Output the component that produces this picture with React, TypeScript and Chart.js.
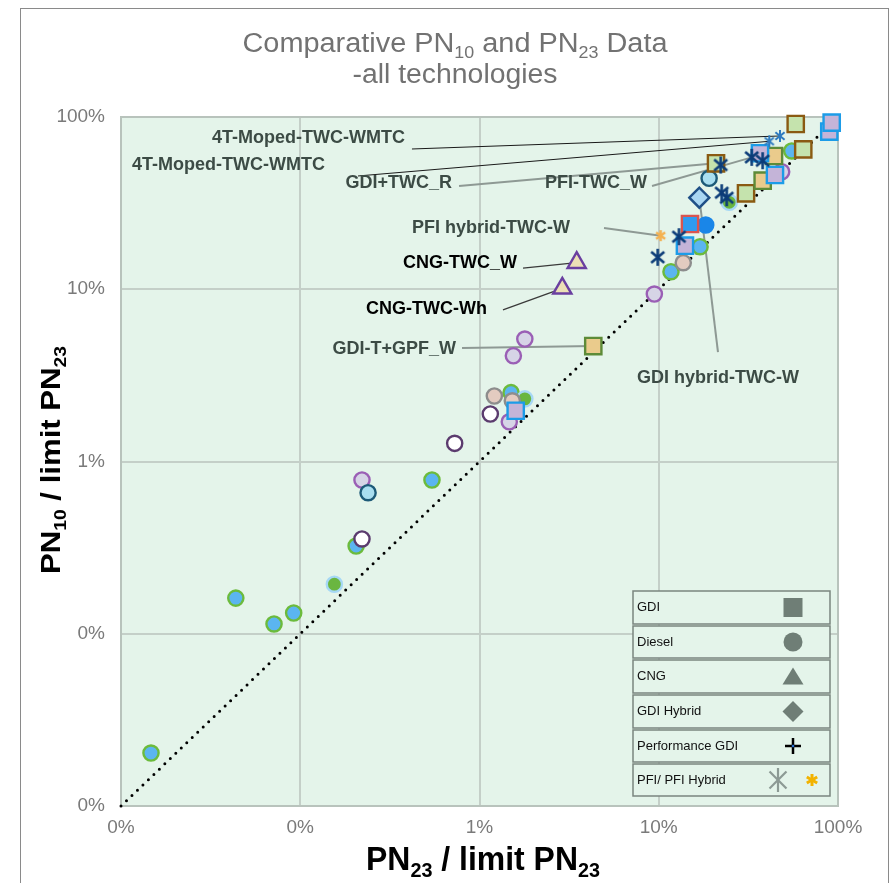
import React, { useEffect, useRef } from 'react';
import { Chart, registerables } from 'chart.js';

Chart.register(...registerables);

// ---------------- DATA ----------------
const TICK_VALUES = [0.0001, 0.001, 0.01, 0.1, 1];
const DIAGONAL_X = [0.0001, 1];
const DIAGONAL_Y = [0.0001, 1];

// Diesel – blue fill / green border
const dieselBlueX = [0.000147, 0.000437, 0.000714, 0.000919, 0.00205, 0.00543, 0.015, 0.552, 0.117, 0.17];
const dieselBlueY = [0.000203, 0.00161, 0.00114, 0.00132, 0.00323, 0.00781, 0.0251, 0.635, 0.1264, 0.1766];
// Diesel – green fill / light blue border
const dieselGreenX = [0.00155, 0.0179, 0.2474];
const dieselGreenY = [0.00194, 0.0231, 0.3198];
// Diesel – lilac fill / purple border
const dieselLilacX = [0.00221, 0.01466, 0.01545, 0.0179, 0.485, 0.0945];
const dieselLilacY = [0.00781, 0.017, 0.0411, 0.0514, 0.481, 0.0938];
// Diesel – white fill / dark purple border
const dieselWhiteX = [0.00221, 0.00727, 0.01149];
const dieselWhiteY = [0.00355, 0.01275, 0.01887];
// Diesel – light blue fill / teal border
const dieselTealX = [0.00239, 0.191];
const dieselTealY = [0.00659, 0.4406];
// Diesel – tan fill / grey border
const dieselTanX = [0.0121, 0.01524, 0.137];
const dieselTanY = [0.024, 0.0225, 0.1426];
// Diesel – solid blue
const dieselSolidX = [0.1828];
const dieselSolidY = [0.236];

// GDI squares
const gdiGreenX = [0.581, 0.64, 0.2087, 0.3068];
const gdiGreenY = [0.911, 0.649, 0.5385, 0.3606];
const gdiTanX = [0.4395, 0.38, 0.04313];
const gdiTanY = [0.594, 0.4268, 0.0468];
const gdiLilacX = [0.894, 0.922, 0.367, 0.445, 0.14, 0.01592];
const gdiLilacY = [0.822, 0.927, 0.616, 0.4606, 0.179, 0.01971];
const gdiBlueX = [0.1494];
const gdiBlueY = [0.2392];

// CNG
const cngX = [0.03485, 0.02897];
const cngY = [0.1426, 0.1013];

// GDI hybrid
const gdiHybridX = [0.1684];
const gdiHybridY = [0.34];

// PFI
const pfiX = [0.33, 0.38, 0.2216, 0.2245, 0.2394, 0.1297, 0.0987];
const pfiY = [0.583, 0.5576, 0.526, 0.3635, 0.34, 0.2019, 0.1533];
const mopedX = [0.4747, 0.4137];
const mopedY = [0.776, 0.7228];
const pfiHybridX = [0.1025];
const pfiHybridY = [0.2047];

// Annotation labels (leader start in data space, target point)
const ANNOTATIONS = [
  { text: '4T-Moped-TWC-WMTC', from: [0.0042, 0.652], to: [mopedX[0], mopedY[0]], dx: -7, dy: -11, align: 'right', kind: 'black' },
  { text: '4T-Moped-TWC-WMTC', from: [0.0021, 0.4546], to: [mopedX[1], mopedY[1]], dx: -33, dy: -11, align: 'right', kind: 'black' },
  { text: 'GDI+TWC_R', from: [0.00769, 0.3975], to: [gdiGreenX[2], gdiGreenY[2]], dx: -7, dy: -3, align: 'right', kind: 'grey' },
  { text: 'PFI-TWC_W', from: [0.0917, 0.3975], to: [pfiX[0], pfiY[0]], dx: -5, dy: -3, align: 'right', kind: 'grey' },
  { text: 'PFI hybrid-TWC-W', from: [0.0495, 0.2268], to: [pfiHybridX[0], pfiHybridY[0]], dx: -34, dy: 0, align: 'right', kind: 'grey' },
  { text: 'CNG-TWC_W', from: [0.01749, 0.1328], to: [cngX[0], cngY[0]], dx: -6, dy: -5, align: 'right', kind: 'cng' },
  { text: 'CNG-TWC-Wh', from: [0.01352, 0.0758], to: [cngX[1], cngY[1]], dx: -16, dy: -1, align: 'right', kind: 'cng' },
  { text: 'GDI-T+GPF_W', from: [0.00799, 0.0456], to: [gdiTanX[2], gdiTanY[2]], dx: -6, dy: 1, align: 'right', kind: 'grey' },
  { text: 'GDI hybrid-TWC-W', from: [0.214, 0.0432], to: [gdiHybridX[0], gdiHybridY[0]], dx: 0, dy: 26, align: 'center', kind: 'grey' },
];

const LEGEND_LABELS = ['GDI', 'Diesel', 'CNG', 'GDI Hybrid', 'Performance GDI', 'PFI/ PFI Hybrid'];

type Part = { t: string; sub?: boolean };
const TITLE_LINE1: Part[] = [
  { t: 'Comparative PN' }, { t: '10', sub: true }, { t: ' and PN' }, { t: '23', sub: true }, { t: ' Data' },
];
const TITLE_LINE2: Part[] = [{ t: '-all technologies' }];
const X_TITLE: Part[] = [{ t: 'PN' }, { t: '23', sub: true }, { t: ' / limit PN' }, { t: '23', sub: true }];
const Y_TITLE: Part[] = [{ t: 'PN' }, { t: '10', sub: true }, { t: ' / limit PN' }, { t: '23', sub: true }];

// ---------------- STYLE ----------------
const FONT = '"Liberation Sans", Arial, sans-serif';
const PLOT_BG = '#e4f4ea';
const GRID = '#c4cfc8';
const LABEL_COLOR = '#3c4b45';
const LEGEND_GREY = '#6f7e76';

function drawStar(ctx: CanvasRenderingContext2D, x: number, y: number, r: number, color: string, lw: number, angles: number[]) {
  ctx.save();
  ctx.strokeStyle = color;
  ctx.lineWidth = lw;
  angles.forEach((deg) => {
    const a = (deg * Math.PI) / 180;
    ctx.beginPath();
    ctx.moveTo(x + r * Math.cos(a), y + r * Math.sin(a));
    ctx.lineTo(x - r * Math.cos(a), y - r * Math.sin(a));
    ctx.stroke();
  });
  ctx.restore();
}

function makeStarImage(size: number, color: string, lw: number, angles: number[]) {
  const c = document.createElement('canvas');
  c.width = size;
  c.height = size;
  const g = c.getContext('2d')!;
  drawStar(g, size / 2, size / 2, size / 2 - 1, color, lw, angles);
  return c;
}

function drawRich(
  ctx: CanvasRenderingContext2D,
  parts: Part[],
  x: number,
  y: number,
  o: { size: number; weight: string; color: string; align: 'left' | 'center' | 'right'; targetWidth?: number }
) {
  const subSize = o.size * 0.62;
  const fMain = `${o.weight} ${o.size}px ${FONT}`;
  const fSub = `${o.weight} ${subSize}px ${FONT}`;
  let w = 0;
  const widths = parts.map((p) => {
    ctx.font = p.sub ? fSub : fMain;
    const m = ctx.measureText(p.t).width;
    w += m;
    return m;
  });
  const sx = o.targetWidth ? o.targetWidth / w : 1;
  ctx.save();
  ctx.translate(x, y);
  ctx.scale(sx, 1);
  let cx = o.align === 'center' ? -w / 2 : o.align === 'right' ? -w : 0;
  ctx.fillStyle = o.color;
  ctx.textAlign = 'left';
  ctx.textBaseline = 'alphabetic';
  parts.forEach((p, i) => {
    ctx.font = p.sub ? fSub : fMain;
    ctx.fillText(p.t, cx, p.sub ? o.size * 0.22 : 0);
    cx += widths[i];
  });
  ctx.restore();
}

const decorPlugin = {
  id: 'decor',
  beforeDraw(chart: any) {
    const { ctx, chartArea: a } = chart;
    ctx.save();
    ctx.fillStyle = '#ffffff';
    ctx.fillRect(0, 0, chart.width, chart.height);
    ctx.fillStyle = PLOT_BG;
    ctx.fillRect(a.left, a.top, a.right - a.left, a.bottom - a.top);
    ctx.strokeStyle = '#8a8a8a';
    ctx.lineWidth = 1;
    ctx.strokeRect(20.5, 8.5, 868, 900);
    ctx.restore();
  },
  beforeDatasetsDraw(chart: any) {
    const { ctx, chartArea: a, scales } = chart;
    ctx.save();
    ctx.strokeStyle = '#b8c3bc';
    ctx.lineWidth = 2;
    ctx.beginPath();
    ctx.moveTo(a.left, a.top);
    ctx.lineTo(a.right, a.top);
    ctx.lineTo(a.right, a.bottom);
    ctx.stroke();
    // leader lines
    ANNOTATIONS.forEach((an) => {
      const fx = scales.x.getPixelForValue(an.from[0]);
      const fy = scales.y.getPixelForValue(an.from[1]);
      const tx = scales.x.getPixelForValue(an.to[0]);
      const ty = scales.y.getPixelForValue(an.to[1]);
      if (an.kind === 'black') {
        ctx.strokeStyle = '#1a1a1a';
        ctx.lineWidth = 1;
      } else if (an.kind === 'cng') {
        ctx.strokeStyle = '#3a3a3a';
        ctx.lineWidth = 1.3;
      } else {
        ctx.strokeStyle = '#8e9994';
        ctx.lineWidth = 2;
      }
      ctx.beginPath();
      ctx.moveTo(fx, fy);
      ctx.lineTo(tx, ty);
      ctx.stroke();
    });
    ctx.restore();
  },
  afterDatasetsDraw(chart: any) {
    const { ctx, scales } = chart;
    ctx.save();
    // annotation texts
    ANNOTATIONS.forEach((an) => {
      const fx = scales.x.getPixelForValue(an.from[0]);
      const fy = scales.y.getPixelForValue(an.from[1]);
      ctx.font = `bold 18px ${FONT}`;
      ctx.fillStyle = an.kind === 'cng' ? '#000000' : LABEL_COLOR;
      ctx.textAlign = an.align as CanvasTextAlign;
      ctx.textBaseline = 'middle';
      ctx.fillText(an.text, fx + an.dx, fy + an.dy);
    });

    // legend
    const lx0 = 633;
    const lx1 = 830;
    const edges = [590, 625, 659, 694, 729, 763, 797];
    for (let i = 0; i < 6; i++) {
      const t = edges[i] + 1;
      const b = edges[i + 1] - 1;
      ctx.fillStyle = PLOT_BG;
      ctx.fillRect(lx0, t, lx1 - lx0, b - t);
      ctx.strokeStyle = '#7a857f';
      ctx.lineWidth = 1.5;
      ctx.strokeRect(lx0, t, lx1 - lx0, b - t);
      const cy = (t + b) / 2;
      ctx.fillStyle = '#111111';
      ctx.font = `13px ${FONT}`;
      ctx.textAlign = 'left';
      ctx.textBaseline = 'middle';
      ctx.fillText(LEGEND_LABELS[i], lx0 + 4, cy);
      const sx = 793;
      ctx.fillStyle = LEGEND_GREY;
      ctx.beginPath();
      if (i === 0) {
        ctx.fillRect(sx - 9.5, cy - 9.5, 19, 19);
      } else if (i === 1) {
        ctx.arc(sx, cy, 9.5, 0, Math.PI * 2);
        ctx.fill();
      } else if (i === 2) {
        ctx.moveTo(sx, cy - 9);
        ctx.lineTo(sx + 10.5, cy + 8);
        ctx.lineTo(sx - 10.5, cy + 8);
        ctx.closePath();
        ctx.fill();
      } else if (i === 3) {
        ctx.moveTo(sx, cy - 10.5);
        ctx.lineTo(sx + 10.5, cy);
        ctx.lineTo(sx, cy + 10.5);
        ctx.lineTo(sx - 10.5, cy);
        ctx.closePath();
        ctx.fill();
      } else if (i === 4) {
        ctx.strokeStyle = '#000000';
        ctx.lineWidth = 2.5;
        ctx.moveTo(sx - 8, cy);
        ctx.lineTo(sx + 8, cy);
        ctx.moveTo(sx, cy - 8);
        ctx.lineTo(sx, cy + 8);
        ctx.stroke();
        ctx.fillStyle = '#2a6fd0';
        ctx.fillRect(sx - 1.2, cy - 1.2, 2.4, 2.4);
      } else {
        drawStar(ctx, 778, cy, 12, '#8c9a94', 2.2, [90, 45, 135]);
        drawStar(ctx, 812, cy, 6, '#f2b300', 3, [90, 30, 150]);
      }
    }

    // title
    drawRich(ctx, TITLE_LINE1, 455, 52, { size: 27, weight: 'normal', color: '#727272', align: 'center', targetWidth: 425 });
    drawRich(ctx, TITLE_LINE2, 455, 83, { size: 27, weight: 'normal', color: '#727272', align: 'center', targetWidth: 205 });

    // axis titles
    drawRich(ctx, X_TITLE, 483, 870, { size: 34, weight: 'bold', color: '#000000', align: 'center', targetWidth: 234 });
    ctx.save();
    ctx.translate(60, 460);
    ctx.rotate(-Math.PI / 2);
    drawRich(ctx, Y_TITLE, 0, 0, { size: 27, weight: 'bold', color: '#000000', align: 'center', targetWidth: 228 });
    ctx.restore();

    ctx.restore();
  },
};

function pts(xs: number[], ys: number[]) {
  return xs.map((x, i) => ({ x, y: ys[i] }));
}

export default function App() {
  const ref = useRef<HTMLCanvasElement | null>(null);

  useEffect(() => {
    if (!ref.current) return;
    const navyStar = makeStarImage(19, '#0c3c78', 2.6, [90, 40, 140]);
    const mopedStar = makeStarImage(14, '#2f7bc0', 2, [90, 40, 140]);
    const orangeStar = makeStarImage(13, '#f4b150', 2.5, [90, 35, 145]);

    const circle = (bg: string, bd: string) => ({
      pointStyle: 'circle', pointRadius: 7.6, pointBackgroundColor: bg, pointBorderColor: bd, pointBorderWidth: 2.4,
      backgroundColor: bg, borderColor: bd,
    });
    const square = (bg: string, bd: string) => ({
      pointStyle: 'rect', pointRadius: 11.5, pointBackgroundColor: bg, pointBorderColor: bd, pointBorderWidth: 2.4,
      backgroundColor: bg, borderColor: bd,
    });

    const datasets: any[] = [
      { label: 'PFI hybrid', data: pts(pfiHybridX, pfiHybridY), pointStyle: orangeStar, pointRadius: 6 },
      { label: 'PFI moped', data: pts(mopedX, mopedY), pointStyle: mopedStar, pointRadius: 6 },
      { label: 'PFI', data: pts(pfiX, pfiY), pointStyle: navyStar, pointRadius: 8 },
      {
        label: 'GDI Hybrid', data: pts(gdiHybridX, gdiHybridY), pointStyle: 'rectRot', pointRadius: 10,
        pointBackgroundColor: '#a9d6f2', pointBorderColor: '#1f4f86', pointBorderWidth: 2.4,
      },
      {
        label: 'CNG', data: pts(cngX, cngY), pointStyle: 'triangle', pointRadius: 10.5,
        pointBackgroundColor: '#ece0b6', pointBorderColor: '#6a3fa0', pointBorderWidth: 2.4,
      },
      { label: 'GDI blue', data: pts(gdiBlueX, gdiBlueY), ...square('#2f9bf0', '#d95550') },
      { label: 'GDI lilac', data: pts(gdiLilacX, gdiLilacY), ...square('#c4b4d8', '#1c9ce8') },
      { label: 'GDI tan', data: pts(gdiTanX, gdiTanY), ...square('#eacb8c', '#5d8b38') },
      { label: 'GDI green', data: pts(gdiGreenX, gdiGreenY), ...square('#c5e3ad', '#8a5a12') },
      { label: 'Diesel solid', data: pts(dieselSolidX, dieselSolidY), ...circle('#1a86e8', '#1a86e8') },
      { label: 'Diesel tan', data: pts(dieselTanX, dieselTanY), ...circle('#e3cbc0', '#8d8d8d') },
      { label: 'Diesel teal', data: pts(dieselTealX, dieselTealY), ...circle('#a9def0', '#1d5a78') },
      { label: 'Diesel white', data: pts(dieselWhiteX, dieselWhiteY), ...circle('#ffffff', '#5b3b6e') },
      { label: 'Diesel lilac', data: pts(dieselLilacX, dieselLilacY), ...circle('#d6d4e6', '#9a5fb5') },
      { label: 'Diesel green', data: pts(dieselGreenX, dieselGreenY), ...circle('#6ab640', '#a6d8f5') },
      { label: 'Diesel blue', data: pts(dieselBlueX, dieselBlueY), ...circle('#5bb5f0', '#6cbb3c') },
      {
        label: 'Diagonal', data: pts(DIAGONAL_X, DIAGONAL_Y), showLine: true, pointRadius: 0,
        borderColor: '#000000', borderWidth: 3, borderDash: [0, 7.6], borderCapStyle: 'round', fill: false,
      },
    ];
    datasets.forEach((d) => { d.clip = false; });

    const tickFont = { family: FONT, size: 19 };
    const fmt = (v: any) => Math.round(Number(v) * 100) + '%';

    const chart = new Chart(ref.current, {
      type: 'scatter',
      data: { datasets },
      options: {
        animation: false,
        responsive: false,
        events: [],
        layout: { padding: { left: 21, right: 53, top: 117, bottom: 37 } },
        plugins: { legend: { display: false }, tooltip: { enabled: false }, title: { display: false } },
        scales: {
          x: {
            type: 'logarithmic',
            min: 0.0001,
            max: 1,
            position: 'bottom',
            afterBuildTicks: (s: any) => { s.ticks = TICK_VALUES.map((v) => ({ value: v })); },
            afterFit: (s: any) => { s.height = 40; },
            ticks: { callback: fmt, color: '#7a7a7a', font: tickFont, padding: 10, maxRotation: 0, autoSkip: false },
            grid: { color: GRID, lineWidth: 2, drawTicks: false },
            border: { color: '#b8c3bc', width: 2 },
          },
          y: {
            type: 'logarithmic',
            min: 0.0001,
            max: 1,
            position: 'left',
            afterBuildTicks: (s: any) => { s.ticks = TICK_VALUES.map((v) => ({ value: v })); },
            afterFit: (s: any) => { s.width = 100; },
            ticks: { callback: fmt, color: '#7a7a7a', font: tickFont, padding: 16, autoSkip: false },
            grid: { color: GRID, lineWidth: 2, drawTicks: false },
            border: { color: '#b8c3bc', width: 2 },
          },
        },
      } as any,
      plugins: [decorPlugin as any],
    });
    return () => chart.destroy();
  }, []);

  return (
    <div style={{ position: 'absolute', left: 0, top: 0, width: 891, height: 883, background: '#fff' }}>
      <canvas ref={ref} width={891} height={883} style={{ display: 'block', width: 891, height: 883 }} />
    </div>
  );
}
